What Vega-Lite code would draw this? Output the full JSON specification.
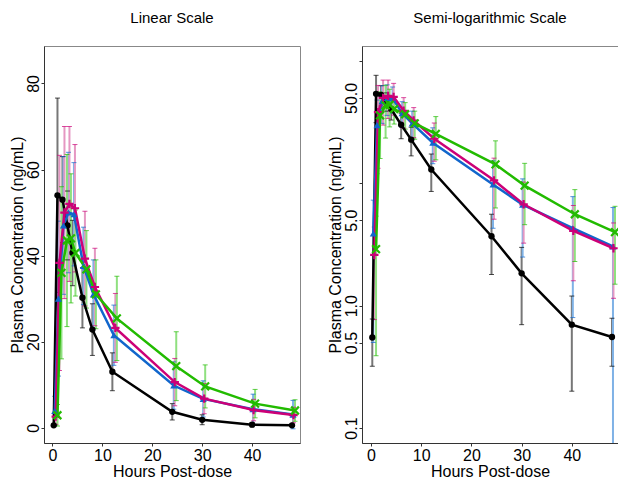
{
  "$schema": "https://vega.github.io/schema/vega-lite/v6.json",
  "padding": {"left": 8, "top": 10, "right": 0, "bottom": 0},
  "autosize": {"type": "pad"},
  "spacing": 22,
  "config": {
    "font": "Liberation Sans",
    "view": {"stroke": "#888888", "strokeWidth": 1},
    "axis": {"labelFont": "Liberation Sans", "labelFontSize": 16, "titleFont": "Liberation Sans", "titleFontSize": 16, "titleFontWeight": "normal", "labelColor": "#000", "titleColor": "#000", "domainColor": "#333", "tickColor": "#333", "tickSize": 3, "grid": false},
    "axisY": {"labelAngle": -90, "labelAlign": "center", "labelBaseline": "bottom", "labelPadding": 0, "titlePadding": 0},
    "axisX": {"labelPadding": 1, "titlePadding": 0},
    "title": {"font": "Liberation Sans", "fontSize": 15, "fontWeight": "normal", "offset": 20, "color": "#000"}
  },
  "datasets": {
    "pk": [
      {"g": "A", "hour": 0.25, "mean": 0.55, "lo": 0.32, "hi": 0.78},
      {"g": "A", "hour": 1.0, "mean": 54.0, "lo": 31.4, "hi": 76.6},
      {"g": "A", "hour": 2.0, "mean": 53.0, "lo": 43.0, "hi": 63.0},
      {"g": "A", "hour": 3.0, "mean": 47.0, "lo": 39.0, "hi": 55.0},
      {"g": "A", "hour": 4.0, "mean": 40.6, "lo": 33.0, "hi": 48.2},
      {"g": "A", "hour": 6.0, "mean": 30.2, "lo": 23.2, "hi": 37.2},
      {"g": "A", "hour": 8.0, "mean": 22.8, "lo": 16.8, "hi": 28.8},
      {"g": "A", "hour": 12.0, "mean": 13.0, "lo": 8.6, "hi": 17.4},
      {"g": "A", "hour": 24.0, "mean": 3.7, "lo": 1.8, "hi": 5.6},
      {"g": "A", "hour": 30.0, "mean": 1.84, "lo": 0.7, "hi": 3.0},
      {"g": "A", "hour": 40.0, "mean": 0.7, "lo": 0.2, "hi": 1.2},
      {"g": "A", "hour": 48.0, "mean": 0.555, "lo": 0.32, "hi": 0.79},
      {"g": "B", "hour": 0.45, "mean": 3.9, "lo": 0.5, "hi": 7.3},
      {"g": "B", "hour": 1.2, "mean": 30.0, "lo": 12.0, "hi": 48.0},
      {"g": "B", "hour": 2.2, "mean": 47.0, "lo": 31.0, "hi": 63.0},
      {"g": "B", "hour": 3.2, "mean": 50.0, "lo": 36.0, "hi": 64.0},
      {"g": "B", "hour": 4.3, "mean": 49.6, "lo": 37.6, "hi": 61.6},
      {"g": "B", "hour": 6.2, "mean": 37.6, "lo": 28.6, "hi": 46.6},
      {"g": "B", "hour": 8.2, "mean": 31.0, "lo": 23.0, "hi": 39.0},
      {"g": "B", "hour": 12.3, "mean": 21.5, "lo": 14.5, "hi": 28.5},
      {"g": "B", "hour": 24.3, "mean": 9.8, "lo": 4.3, "hi": 15.3},
      {"g": "B", "hour": 30.2, "mean": 6.7, "lo": 2.5, "hi": 10.9},
      {"g": "B", "hour": 40.2, "mean": 4.3, "lo": 0.8, "hi": 7.8},
      {"g": "B", "hour": 48.2, "mean": 3.05, "lo": -0.25, "hi": 6.35},
      {"g": "C", "hour": 0.65, "mean": 2.6, "lo": 0.77, "hi": 4.4},
      {"g": "C", "hour": 1.4, "mean": 38.3, "lo": 13.3, "hi": 63.3},
      {"g": "C", "hour": 2.4, "mean": 50.0, "lo": 30.0, "hi": 70.0},
      {"g": "C", "hour": 3.4, "mean": 52.0, "lo": 34.0, "hi": 70.0},
      {"g": "C", "hour": 4.5, "mean": 51.0, "lo": 36.2, "hi": 65.8},
      {"g": "C", "hour": 6.5, "mean": 39.3, "lo": 28.3, "hi": 50.3},
      {"g": "C", "hour": 8.5, "mean": 32.7, "lo": 23.7, "hi": 41.7},
      {"g": "C", "hour": 12.6, "mean": 23.2, "lo": 15.2, "hi": 31.2},
      {"g": "C", "hour": 24.5, "mean": 10.6, "lo": 5.1, "hi": 16.1},
      {"g": "C", "hour": 30.4, "mean": 6.75, "lo": 3.25, "hi": 10.25},
      {"g": "C", "hour": 40.3, "mean": 4.1, "lo": 1.6, "hi": 6.6},
      {"g": "C", "hour": 48.3, "mean": 2.95, "lo": 1.15, "hi": 4.75},
      {"g": "D", "hour": 1.0, "mean": 2.9, "lo": 0.39, "hi": 5.4},
      {"g": "D", "hour": 1.8, "mean": 36.0, "lo": 16.0, "hi": 56.0},
      {"g": "D", "hour": 2.9, "mean": 43.5, "lo": 23.5, "hi": 63.5},
      {"g": "D", "hour": 3.7, "mean": 44.0, "lo": 29.0, "hi": 59.0},
      {"g": "D", "hour": 4.6, "mean": 40.6, "lo": 30.6, "hi": 50.6},
      {"g": "D", "hour": 6.8, "mean": 36.8, "lo": 27.8, "hi": 45.8},
      {"g": "D", "hour": 8.7, "mean": 31.0, "lo": 23.0, "hi": 39.0},
      {"g": "D", "hour": 12.9, "mean": 25.4, "lo": 15.6, "hi": 35.2},
      {"g": "D", "hour": 24.8, "mean": 14.3, "lo": 6.3, "hi": 22.3},
      {"g": "D", "hour": 30.6, "mean": 9.6, "lo": 4.6, "hi": 14.6},
      {"g": "D", "hour": 40.6, "mean": 5.6, "lo": 2.3, "hi": 8.9},
      {"g": "D", "hour": 48.6, "mean": 4.0, "lo": 1.5, "hi": 6.5}
    ]
  },
  "hconcat": [
    {
      "title": "Linear Scale",
      "width": 256,
      "height": 397,
      "data": {"name": "pk"},
      "encoding": {
        "x": {"field": "hour", "type": "quantitative", "title": "Hours Post-dose", "scale": {"domain": [-1.7, 49.6], "nice": false, "zero": false}, "axis": {"values": [0, 10, 20, 30, 40]}}
      },
      "layer": [
        {
          "mark": {"type": "rule", "strokeWidth": 2},
          "encoding": {
            "y": {"field": "lo", "type": "quantitative", "title": "Plasma Concentration (ng/mL)", "scale": {"domain": [-3.55, 88.7], "nice": false, "zero": false}, "axis": {"values": [0, 20, 40, 60, 80]}},
            "y2": {"field": "hi"},
            "stroke": {"field": "g", "type": "nominal", "scale": {"domain": ["A", "B", "C", "D"], "range": ["#777777", "#7fb2e6", "#e597c2", "#8fe07f"]}, "legend": null}
          }
        },
        {
          "mark": {"type": "tick", "orient": "horizontal", "size": 5, "thickness": 1},
          "encoding": {
            "y": {"field": "lo", "type": "quantitative"},
            "color": {"field": "g", "type": "nominal", "scale": {"domain": ["A", "B", "C", "D"], "range": ["#000000", "#1166cc", "#cc0077", "#22bb00"]}, "legend": null}
          }
        },
        {
          "mark": {"type": "tick", "orient": "horizontal", "size": 5, "thickness": 1},
          "encoding": {
            "y": {"field": "hi", "type": "quantitative"},
            "color": {"field": "g", "type": "nominal", "legend": null}
          }
        },
        {
          "mark": {"type": "line", "strokeWidth": 2.5},
          "encoding": {
            "y": {"field": "mean", "type": "quantitative"},
            "color": {"field": "g", "type": "nominal", "legend": null}
          }
        },
        {
          "transform": [{"filter": "datum.g == 'A'"}],
          "mark": {"type": "point", "shape": "circle", "filled": true, "opacity": 1, "size": 40, "color": "#000000"},
          "encoding": {"y": {"field": "mean", "type": "quantitative"}}
        },
        {
          "transform": [{"filter": "datum.g == 'B'"}],
          "mark": {"type": "point", "shape": "triangle-up", "filled": true, "opacity": 1, "size": 50, "color": "#1166cc"},
          "encoding": {"y": {"field": "mean", "type": "quantitative"}}
        },
        {
          "transform": [{"filter": "datum.g == 'C'"}],
          "mark": {"type": "point", "shape": "M-1,0L1,0M0,-1L0,1", "filled": false, "strokeWidth": 2.2, "opacity": 1, "size": 70, "color": "#cc0077"},
          "encoding": {"y": {"field": "mean", "type": "quantitative"}}
        },
        {
          "transform": [{"filter": "datum.g == 'D'"}],
          "mark": {"type": "point", "shape": "M-1,-1L1,1M-1,1L1,-1", "filled": false, "strokeWidth": 2.2, "opacity": 1, "size": 60, "color": "#22bb00"},
          "encoding": {"y": {"field": "mean", "type": "quantitative"}}
        }
      ]
    },
    {
      "title": "Semi-logarithmic Scale",
      "width": 256,
      "height": 397,
      "data": {"name": "pk"},
      "encoding": {
        "x": {"field": "hour", "type": "quantitative", "title": "Hours Post-dose", "scale": {"domain": [-1.8, 49.2], "nice": false, "zero": false}, "axis": {"values": [0, 10, 20, 30, 40]}}
      },
      "layer": [
        {
          "transform": [{"calculate": "max(datum.lo, 0.01)", "as": "loLog"}],
          "mark": {"type": "rule", "strokeWidth": 2, "clip": true},
          "encoding": {
            "y": {"field": "loLog", "type": "quantitative", "title": "Plasma Concentration (ng/mL)", "scale": {"type": "log", "domain": [0.0754, 133], "nice": false}, "axis": {"values": [0.1, 0.5, 1, 5, 10, 50, 100], "labelExpr": "datum.value == 10 || datum.value == 100 ? '' : format(datum.value, '.1f')"}},
            "y2": {"field": "hi"},
            "stroke": {"field": "g", "type": "nominal", "scale": {"domain": ["A", "B", "C", "D"], "range": ["#777777", "#7fb2e6", "#e597c2", "#8fe07f"]}, "legend": null}
          }
        },
        {
          "transform": [{"filter": "datum.lo > 0.08"}],
          "mark": {"type": "tick", "orient": "horizontal", "size": 5, "thickness": 1},
          "encoding": {
            "y": {"field": "lo", "type": "quantitative"},
            "color": {"field": "g", "type": "nominal", "scale": {"domain": ["A", "B", "C", "D"], "range": ["#000000", "#1166cc", "#cc0077", "#22bb00"]}, "legend": null}
          }
        },
        {
          "mark": {"type": "tick", "orient": "horizontal", "size": 5, "thickness": 1},
          "encoding": {
            "y": {"field": "hi", "type": "quantitative"},
            "color": {"field": "g", "type": "nominal", "legend": null}
          }
        },
        {
          "mark": {"type": "line", "strokeWidth": 2.5, "clip": true},
          "encoding": {
            "y": {"field": "mean", "type": "quantitative"},
            "color": {"field": "g", "type": "nominal", "legend": null}
          }
        },
        {
          "transform": [{"filter": "datum.g == 'A'"}],
          "mark": {"type": "point", "shape": "circle", "filled": true, "opacity": 1, "size": 40, "color": "#000000"},
          "encoding": {"y": {"field": "mean", "type": "quantitative"}}
        },
        {
          "transform": [{"filter": "datum.g == 'B'"}],
          "mark": {"type": "point", "shape": "triangle-up", "filled": true, "opacity": 1, "size": 50, "color": "#1166cc"},
          "encoding": {"y": {"field": "mean", "type": "quantitative"}}
        },
        {
          "transform": [{"filter": "datum.g == 'C'"}],
          "mark": {"type": "point", "shape": "M-1,0L1,0M0,-1L0,1", "filled": false, "strokeWidth": 2.2, "opacity": 1, "size": 70, "color": "#cc0077"},
          "encoding": {"y": {"field": "mean", "type": "quantitative"}}
        },
        {
          "transform": [{"filter": "datum.g == 'D'"}],
          "mark": {"type": "point", "shape": "M-1,-1L1,1M-1,1L1,-1", "filled": false, "strokeWidth": 2.2, "opacity": 1, "size": 60, "color": "#22bb00"},
          "encoding": {"y": {"field": "mean", "type": "quantitative"}}
        }
      ]
    }
  ]
}
